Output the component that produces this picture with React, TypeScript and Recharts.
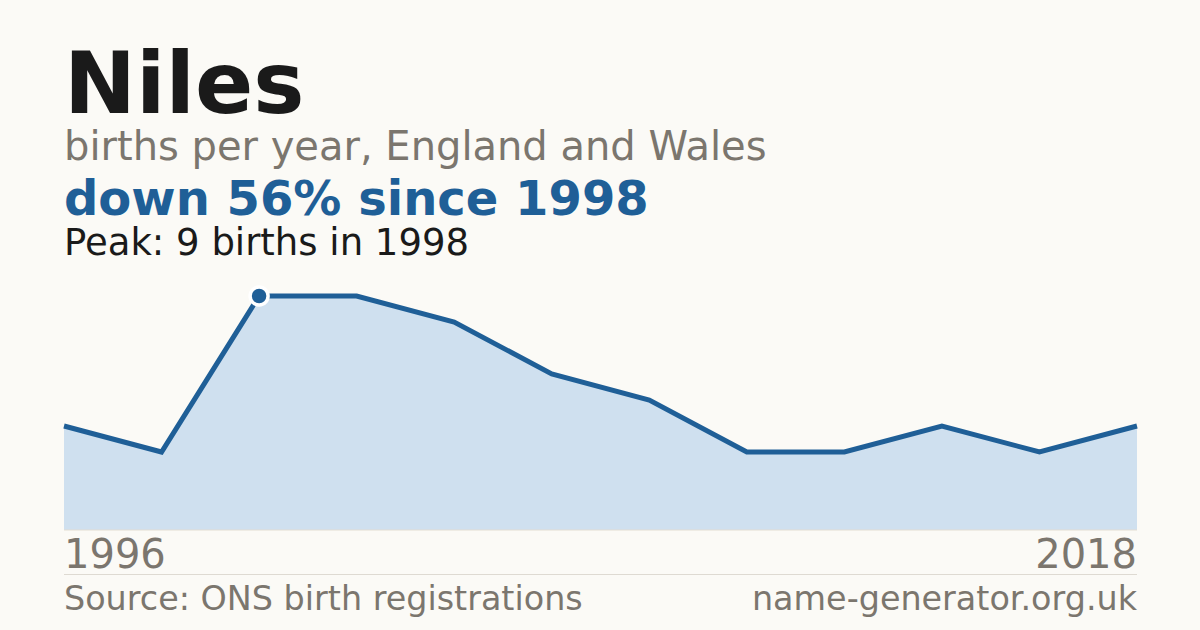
import { AreaChart, Area, XAxis, YAxis } from "recharts";

const years = ["1996", "1997", "1998", "1999", "2001", "2003", "2005", "2008", "2010", "2013", "2016", "2018"];
const births = [4, 3, 9, 9, 8, 6, 5, 3, 3, 4, 3, 4];
const peakYear = "1998";
const edgeTicks = [years[0], years[years.length - 1]];

const data = years.map((year, i) => ({ year, births: births[i] }));

const FONT = "'DejaVu Sans', sans-serif";
const BG = "#fbfaf6";
const BLUE = "#1f5f97";
const GREY = "#7b766e";

const EdgeTick = (props: any) => {
  const { x, y, payload } = props;
  const first = payload.value === edgeTicks[0];
  return (
    <text
      x={x}
      y={y + 30}
      textAnchor={first ? "start" : "end"}
      fontFamily={FONT}
      fontSize={40}
      fill={GREY}
    >
      {payload.value}
    </text>
  );
};

const PeakDot = (props: any) => {
  const { cx, cy, payload } = props;
  if (!payload || payload.year !== peakYear) return <g key={props.key} />;
  return <circle key={props.key} cx={cx} cy={cy} r={9} fill={BLUE} stroke="#ffffff" strokeWidth={3.5} />;
};

export default function App() {
  return (
    <div style={{ position: "fixed", left: 0, top: 0, width: 1200, height: 630, background: BG, overflow: "hidden" }}>
      <svg width={1200} height={630} style={{ position: "absolute", left: 0, top: 0 }}>
        <text x={64} y={113} fontFamily={FONT} fontWeight="bold" fontSize={86} fill="#1a1a1a">
          Niles
        </text>
        <text x={64} y={160} fontFamily={FONT} fontSize={40} fill={GREY}>
          births per year, England and Wales
        </text>
        <text x={64} y={215} fontFamily={FONT} fontWeight="bold" fontSize={48} fill={BLUE}>
          down 56% since 1998
        </text>
        <text x={64} y={255} fontFamily={FONT} fontSize={37} fill="#1a1a1a">
          Peak: 9 births in 1998
        </text>
        <line x1={64} x2={1137} y1={574.5} y2={574.5} stroke="#dedad2" strokeWidth={1} />
        <text x={64} y={610} fontFamily={FONT} fontSize={33.4} fill={GREY}>
          Source: ONS birth registrations
        </text>
        <text x={1137} y={610} textAnchor="end" fontFamily={FONT} fontSize={33.4} fill={GREY}>
          name-generator.org.uk
        </text>
      </svg>
      <div style={{ position: "absolute", left: 0, top: 0 }}>
        <AreaChart width={1200} height={630} data={data} margin={{ top: 296, right: 63, bottom: 0, left: 64 }}>
          <XAxis
            dataKey="year"
            ticks={edgeTicks}
            interval={0}
            tick={<EdgeTick />}
            tickLine={false}
            axisLine={{ stroke: "#e3ddd2" }}
            height={100}
          />
          <YAxis hide domain={[0, 9]} />
          <Area
            type="linear"
            dataKey="births"
            stroke={BLUE}
            strokeWidth={5}
            fill="#cfe0ef"
            fillOpacity={1}
            dot={<PeakDot />}
            activeDot={false}
            isAnimationActive={false}
          />
        </AreaChart>
      </div>
    </div>
  );
}
